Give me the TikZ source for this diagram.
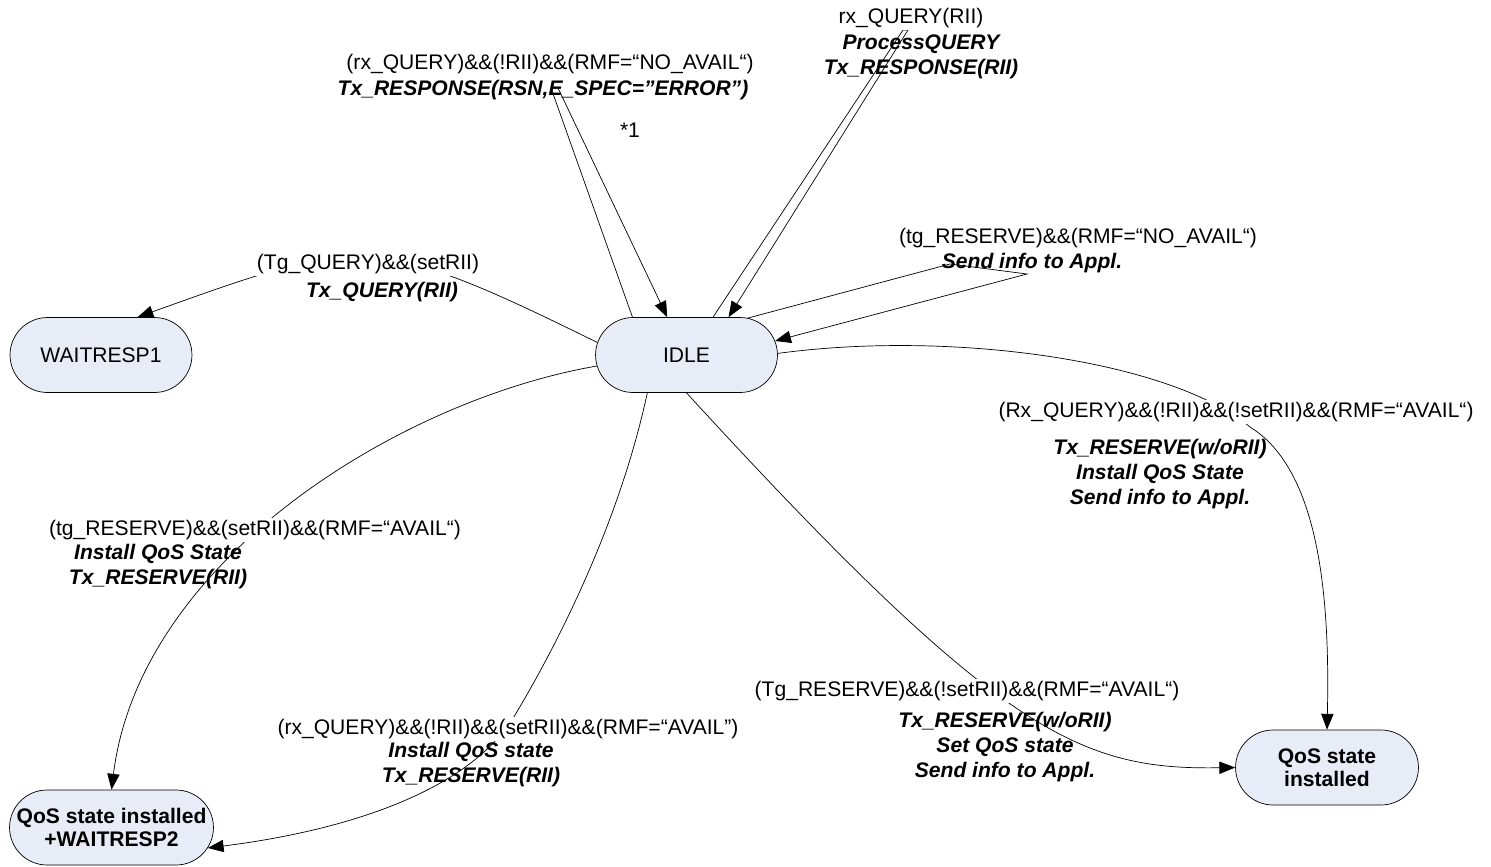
\documentclass[tikz,border=0pt]{standalone}
\usepackage{fontspec}
\setmainfont{Liberation Sans}
\usepackage{tikz}
\usetikzlibrary{shapes.misc,arrows.meta}
\definecolor{statefill}{RGB}{232,236,247}
\newcommand{\lblfont}{\fontsize{12}{14.2}\selectfont}

\begin{document}
\begin{tikzpicture}[x=0.02cm,y=-0.02cm,>={Triangle[length=9pt,width=7pt]},
    every node/.style={font=\lblfont},
    state/.style={rounded rectangle,draw,thin,fill=statefill,minimum height=1.5cm,inner sep=2pt},
    boldstate/.style={state,align=center,font=\fontsize{12}{13}\selectfont\bfseries},
    cond/.style={fill=white,inner sep=1pt},
    act/.style={align=center,inner sep=0pt,font=\lblfont\bfseries\itshape}]
          \useasboundingbox (0,0) rectangle (1491,866);
          \node[state,minimum width=3.78cm] (idle) at (686.5,355) {IDLE};
          \node[state,minimum width=3.78cm] (wait1) at (101,355) {WAITRESP1};
          \node[boldstate,minimum width=4.22cm] (qoswait) at (111.5,827.5) {QoS state installed\\+WAITRESP2};
          \node[boldstate,minimum width=3.8cm] (qosinst) at (1327,767.5) {QoS state\\installed};
          \coordinate (lt1) at (551,88);
          \coordinate (lt2) at (558,88);
          \coordinate (rt1) at (903,30);
          \coordinate (rt2) at (908,30);
          \coordinate (na1) at (950,264);
          \coordinate (na2) at (1027,274);
          \draw[thin,->] (idle.172) .. controls (373,232) and (361,237) .. (wait1.46);
          \draw[thin,->] (idle.145) -- (lt1) -- (lt2) -- (idle.117);
          \draw[thin,->] (idle.55) -- (rt1) -- (rt2) -- (idle.42);
          \draw[thin,->] (idle.31) -- (na1) -- (na2) -- (idle.9);
          \draw[thin,->] (idle.1) .. controls (950,330) and (1170,360) .. (1250,427)
                .. controls (1320,470) and (1330,600) .. (qosinst.north);
          \draw[thin,->] (idle.south) .. controls (1000,735) and (1080,770) .. (qosinst.west);
          \draw[thin,->] (idle.224) .. controls (620,520) and (560,640) .. (515,715)
                .. controls (470,790) and (350,830) .. (qoswait.348);
          \draw[thin,->] (idle.187) .. controls (400,400) and (140,560) .. (qoswait.north);
          \node[cond] (c1) at (368,264) {(Tg\_QUERY)\&\&(setRII)};
          \node[act] (a1) at (382,292) {Tx\_QUERY(RII)};
          \node[cond] (c2) at (550,64) {(rx\_QUERY)\&\&(!RII)\&\&(RMF=“NO\_AVAIL“)};
          \node[act] (a2) at (543,90) {Tx\_RESPONSE(RSN,E\_SPEC=”ERROR”)};
          \node (n1) at (630,130) {*1};
          \node[cond] (c3) at (911,18) {rx\_QUERY(RII)};
          \node[act] (a3) at (921,57) {ProcessQUERY\\Tx\_RESPONSE(RII)};
          \node[cond] (c4) at (1078,238) {(tg\_RESERVE)\&\&(RMF=“NO\_AVAIL“)};
          \node[act] (a4) at (1032,263) {Send info to Appl.};
          \node[cond] (c5) at (1236,412) {(Rx\_QUERY)\&\&(!RII)\&\&(!setRII)\&\&(RMF=“AVAIL“)};
          \node[act] (a5) at (1160,474) {Tx\_RESERVE(w/oRII)\\Install QoS State\\Send info to Appl.};
          \node[cond] (c6) at (967,691) {(Tg\_RESERVE)\&\&(!setRII)\&\&(RMF=“AVAIL“)};
          \node[act] (a6) at (1005,747) {Tx\_RESERVE(w/oRII)\\Set QoS state\\Send info to Appl.};
          \node[cond] (c7) at (508,729) {(rx\_QUERY)\&\&(!RII)\&\&(setRII)\&\&(RMF=“AVAIL”)};
          \node[act] (a7) at (471,765) {Install QoS state\\Tx\_RESERVE(RII)};
          \node[cond] (c8) at (255,530) {(tg\_RESERVE)\&\&(setRII)\&\&(RMF=“AVAIL“)};
          \node[act] (a8) at (158,567) {Install QoS State\\Tx\_RESERVE(RII)};
        \end{tikzpicture}
\end{document}
